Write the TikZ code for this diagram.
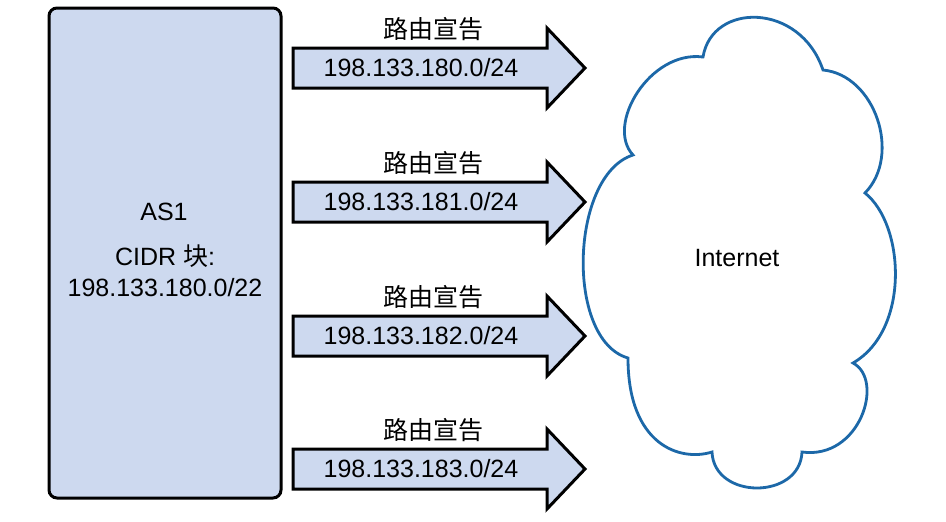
\documentclass[tikz,border=0pt]{standalone}
\usepackage{fontspec}
\setmainfont{Liberation Sans}
\newfontfamily\cjk{Noto Sans CJK SC}
\definecolor{boxfill}{RGB}{205,217,239}
\definecolor{cloudline}{RGB}{28,104,168}
\begin{document}
\begin{tikzpicture}[x=1pt,y=-1pt,
  every node/.style={font=\fontsize{25}{30}\selectfont, inner sep=0pt},
  asbox/.style={draw=black, line width=3pt, fill=boxfill, rounded corners=8pt},
  advarrow/.style={draw=black, line width=3pt, fill=boxfill, line join=miter},
  cloudstyle/.style={draw=cloudline, line width=2.8pt, fill=white}]
\useasboundingbox (0,0) rectangle (946,522);
% AS1 box
\draw[asbox] (49,8) rectangle (281,498);
\node (as1) at (164,212) {AS1};
\node (cidr) at (165,256) {CIDR {\cjk 块}:};
\node (blk) at (165,288) {198.133.180.0/22};
% arrows
\foreach \y/\n [count=\i] in {68/180,202/181,336/182,469/183}{
  \draw[advarrow] (293,\y-20) -- (547,\y-20) -- (547,\y-40) -- (585,\y)
     -- (547,\y+40) -- (547,\y+20) -- (293,\y+20) -- cycle;
  \node (net\i) at (421,\y) {198.133.\n.0/24};
  \node (lbl\i) at (433,\y-39) {\cjk 路由宣告};
}
% cloud
\draw[cloudstyle] (703,57)
  .. controls (712,2) and (800,2) .. (823,70)
  .. controls (875,75) and (902,155) .. (865,193)
  .. controls (905,225) and (910,330) .. (853,363)
  .. controls (885,380) and (860,460) .. (802,452)
  .. controls (800,500) and (714,500) .. (712,452)
  .. controls (680,462) and (628,445) .. (628,358)
  .. controls (565,340) and (570,175) .. (633,155)
  .. controls (605,125) and (650,50) .. cycle;
\node (inet) at (737,258) {Internet};
\end{tikzpicture}
\end{document}
